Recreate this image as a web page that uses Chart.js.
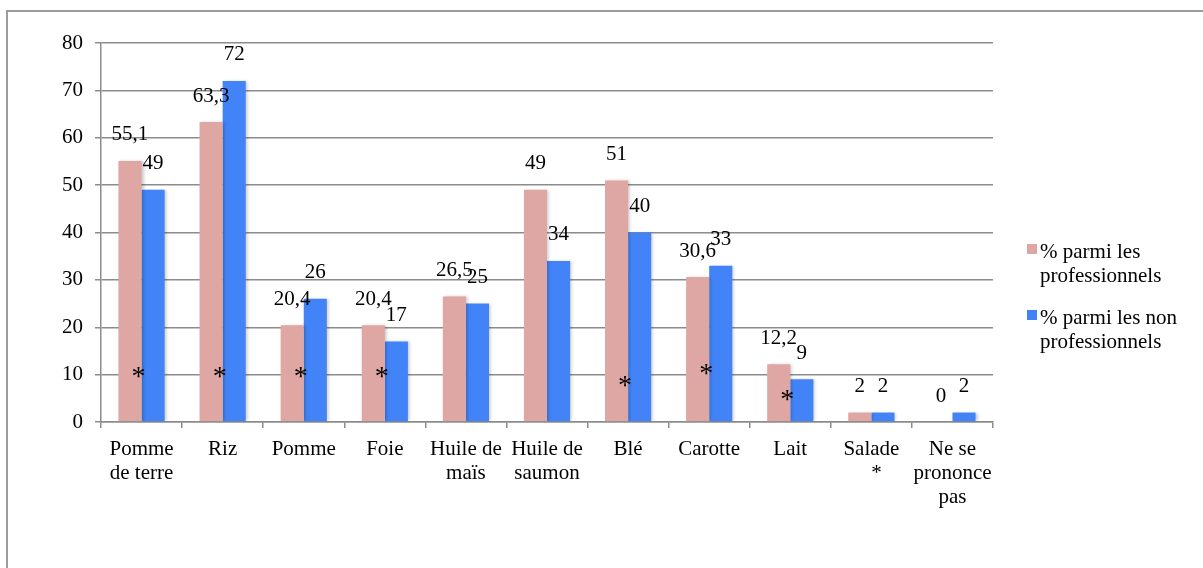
<!DOCTYPE html>
<html>
<head>
<meta charset="utf-8">
<script src="https://cdn.jsdelivr.net/npm/chart.js"></script>
<style>
  html, body { margin: 0; padding: 0; background: #fff; overflow: hidden; }
  #wrap { position: relative; width: 1203px; height: 568px; overflow: hidden; }
  #frame { position: absolute; left: 6px; top: 10px; width: 1400px; height: 800px;
           border-left: 2px solid #9c9c9c; border-top: 2px solid #9c9c9c; }
  canvas { position: absolute; left: 0; top: 0; }
</style>
</head>
<body>
<div id="wrap">
  <div id="frame"></div>
  <canvas id="foodChart" width="1203" height="568"></canvas>
</div>
<script>
const categories = [['Pomme', 'de terre'], 'Riz', 'Pomme', 'Foie', ['Huile de', 'maïs'], ['Huile de', 'saumon'],
  'Blé', 'Carotte', 'Lait', ['Salade', '  *'], ['Ne se', 'prononce', 'pas']];
const proValues = [55.1, 63.3, 20.4, 20.4, 26.5, 49, 51, 30.6, 12.2, 2, 0];
const nonProValues = [49, 72, 26, 17, 25, 34, 40, 33, 9, 2, 2];
const seriesNames = ['% parmi les professionnels', '% parmi les non professionnels'];
const legendLines = [['% parmi les', 'professionnels'], ['% parmi les non', 'professionnels']];
// asterisques (significatif) : catégorie + hauteur en unités de l'axe
const asteriskCategories = [0, 1, 2, 3, 6, 7, 8];
const asteriskValues = [10.5, 10.5, 10.5, 10.5, 8.6, 11, 5.5];

const FONT = '"Liberation Serif", "Times New Roman", serif';
const gridColor = '#8c8c8c';
const colors = ['#DFA7A4', '#4284F8'];

// valeurs au-dessus des barres, virgule décimale
const valueLabels = {
  id: 'valueLabels',
  afterDatasetsDraw(chart) {
    const ctx = chart.ctx;
    ctx.save();
    ctx.font = '21px ' + FONT;
    ctx.fillStyle = '#000';
    ctx.textAlign = 'center';
    ctx.textBaseline = 'middle';
    chart.data.datasets.forEach((ds, i) => {
      chart.getDatasetMeta(i).data.forEach((bar, j) => {
        ctx.fillText(String(ds.data[j]).replace('.', ','), bar.x, bar.y - 26);
      });
    });
    ctx.restore();
  }
};

const asterisks = {
  id: 'asterisks',
  afterDatasetsDraw(chart) {
    const ctx = chart.ctx;
    const x = chart.scales.x, y = chart.scales.y;
    ctx.save();
    ctx.font = '28px ' + FONT;
    ctx.fillStyle = '#000';
    ctx.textAlign = 'center';
    ctx.textBaseline = 'middle';
    asteriskCategories.forEach((c, i) => {
      ctx.fillText('*', x.getPixelForValue(c) - 3, y.getPixelForValue(asteriskValues[i]) + 5);
    });
    ctx.restore();
  }
};

const barShadow = {
  id: 'barShadow',
  beforeDatasetsDraw(chart) {
    const ctx = chart.ctx;
    ctx.save();
    ctx.shadowColor = 'rgba(0,0,0,0.22)';
    ctx.shadowBlur = 3;
    ctx.shadowOffsetX = 2;
    ctx.shadowOffsetY = 0;
  },
  afterDatasetsDraw(chart) {
    chart.ctx.restore();
  }
};

const sideLegend = {
  id: 'sideLegend',
  afterDraw(chart) {
    const ctx = chart.ctx;
    const left = chart.chartArea.right + 34;
    let top = 252;
    ctx.save();
    ctx.font = '21px ' + FONT;
    ctx.textBaseline = 'middle';
    ctx.textAlign = 'left';
    legendLines.forEach((lines, i) => {
      ctx.fillStyle = colors[i];
      ctx.fillRect(left, top - 8, 10, 10);
      ctx.fillStyle = '#000';
      lines.forEach((t, k) => ctx.fillText(t, left + 13, top + k * 24));
      top += 66;
    });
    ctx.restore();
  }
};

const ctx = document.getElementById('foodChart').getContext('2d');
new Chart(ctx, {
  type: 'bar',
  data: {
    labels: categories,
    datasets: [
      { label: seriesNames[0], data: proValues, backgroundColor: colors[0] },
      { label: seriesNames[1], data: nonProValues, backgroundColor: colors[1] }
    ]
  },
  options: {
    responsive: false,
    animation: false,
    events: [],
    layout: { padding: { left: 40, top: 43, right: 210, bottom: 46 } },
    datasets: { bar: { categoryPercentage: 0.57, barPercentage: 1 } },
    plugins: { legend: { display: false }, tooltip: { enabled: false } },
    scales: {
      x: {
        afterFit: s => { s.height = 100; },
        grid: { offset: true, drawOnChartArea: false, drawTicks: true, tickLength: 6, color: gridColor, lineWidth: 1.5 },
        border: { color: gridColor, width: 1.5 },
        ticks: { color: '#000', padding: 9, maxRotation: 0, autoSkip: false,
                 font: { family: FONT, size: 21, lineHeight: 1.143 } }
      },
      y: {
        min: 0, max: 80,
        afterFit: s => { s.width = 61; },
        grid: { color: gridColor, lineWidth: 1.5, tickLength: 6 },
        border: { color: gridColor, width: 1.5 },
        ticks: { stepSize: 10, color: '#000', padding: 12, font: { family: FONT, size: 21 } }
      }
    }
  },
  plugins: [barShadow, valueLabels, asterisks, sideLegend]
});
</script>
</body>
</html>
